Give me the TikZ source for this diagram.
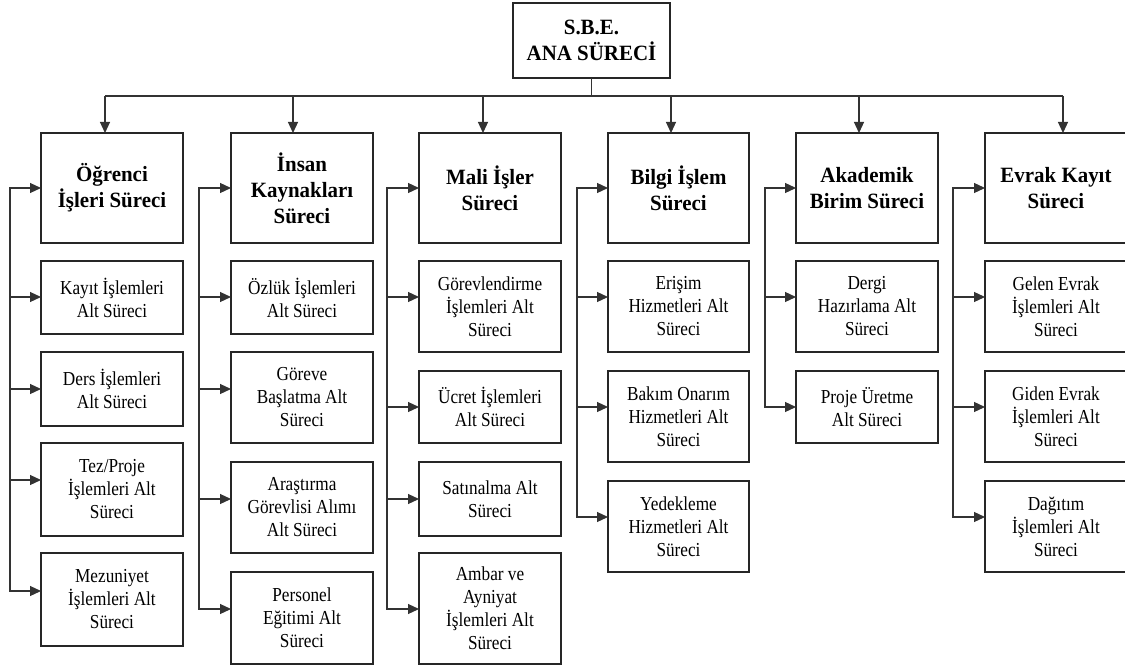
\documentclass[tikz,border=0pt]{standalone}
\usepackage{fontspec}
\setmainfont{Liberation Serif}[FakeStretch=0.87]
\newfontfamily\headfont{Liberation Serif}[FakeStretch=0.96]
\usetikzlibrary{arrows.meta}
\tikzset{
  box/.style={draw=black!85, line width=1.1pt, fill=white, inner sep=0pt, outer sep=0pt, align=center, text=black},
  headbox/.style={box, font=\headfont\bfseries\fontsize{21.8}{26}\selectfont},
  subbox/.style={box, font=\fontsize{19.8}{23}\selectfont},
  conn/.style={draw=black!80, line width=1.2pt},
  arr/.style={conn, -{Triangle[length=11pt,width=10pt]}},
}
\newcommand\bx[7]{\node[#1, minimum width={(#5-#3)*1pt}, minimum height={(#6-#4)*1pt}] (#2) at ({(#3+#5)/2},{(#4+#6)/2}) {#7};}
\begin{document}
\begin{tikzpicture}[x=1pt,y=-1pt]
\useasboundingbox[fill=white] (0,0) rectangle (1125,666);
% top
\bx{headbox}{top}{513}{3}{670}{78}{S.B.E.\\ANA SÜRECİ}
% heads
\bx{headbox}{h1}{41}{133}{183}{243}{Öğrenci\\İşleri Süreci}
\bx{headbox}{h2}{231}{133}{373}{243}{İnsan\\Kaynakları\\Süreci}
\bx{headbox}{h3}{419}{133}{561}{243}{Mali İşler\\Süreci}
\bx{headbox}{h4}{608}{133}{749}{243}{Bilgi İşlem\\Süreci}
\bx{headbox}{h5}{796}{133}{938}{243}{Akademik\\Birim Süreci}
\bx{headbox}{h6}{985}{133}{1127}{243}{Evrak Kayıt\\Süreci}
% column 1
\bx{subbox}{s11}{41}{261}{183}{334}{Kayıt İşlemleri\\Alt Süreci}
\bx{subbox}{s12}{41}{352}{183}{426}{Ders İşlemleri\\Alt Süreci}
\bx{subbox}{s13}{41}{443}{183}{536}{Tez/Proje\\İşlemleri Alt\\Süreci}
\bx{subbox}{s14}{41}{553}{183}{646}{Mezuniyet\\İşlemleri Alt\\Süreci}
% column 2
\bx{subbox}{s21}{231}{261}{373}{334}{Özlük İşlemleri\\Alt Süreci}
\bx{subbox}{s22}{231}{352}{373}{443}{Göreve\\Başlatma Alt\\Süreci}
\bx{subbox}{s23}{231}{462}{373}{553}{Araştırma\\Görevlisi Alımı\\Alt Süreci}
\bx{subbox}{s24}{231}{572}{373}{664}{Personel\\Eğitimi Alt\\Süreci}
% column 3
\bx{subbox}{s31}{419}{261}{561}{352}{Görevlendirme\\İşlemleri Alt\\Süreci}
\bx{subbox}{s32}{419}{371}{561}{443}{Ücret İşlemleri\\Alt Süreci}
\bx{subbox}{s33}{419}{462}{561}{536}{Satınalma Alt\\Süreci}
\bx{subbox}{s34}{419}{553}{561}{664}{Ambar ve\\Ayniyat\\İşlemleri Alt\\Süreci}
% column 4
\bx{subbox}{s41}{608}{261}{749}{352}{Erişim\\Hizmetleri Alt\\Süreci}
\bx{subbox}{s42}{608}{371}{749}{462}{Bakım Onarım\\Hizmetleri Alt\\Süreci}
\bx{subbox}{s43}{608}{481}{749}{572}{Yedekleme\\Hizmetleri Alt\\Süreci}
% column 5
\bx{subbox}{s51}{796}{261}{938}{352}{Dergi\\Hazırlama Alt\\Süreci}
\bx{subbox}{s52}{796}{371}{938}{443}{Proje Üretme\\Alt Süreci}
% column 6
\bx{subbox}{s61}{985}{261}{1127}{352}{Gelen Evrak\\İşlemleri Alt\\Süreci}
\bx{subbox}{s62}{985}{371}{1127}{462}{Giden Evrak\\İşlemleri Alt\\Süreci}
\bx{subbox}{s63}{985}{481}{1127}{572}{Dağıtım\\İşlemleri Alt\\Süreci}
% bus
\coordinate (b1) at (105,96);
\coordinate (b2) at (293,96);
\coordinate (b3) at (483,96);
\coordinate (b4) at (671,96);
\coordinate (b5) at (859,96);
\coordinate (b6) at (1063,96);
\draw[conn] (top.south) -- (top.south |- b1);
\draw[conn] (b1) -- (b6);
\draw[arr] (b1) -- (b1 |- h1.north);
\draw[arr] (b2) -- (b2 |- h2.north);
\draw[arr] (b3) -- (b3 |- h3.north);
\draw[arr] (b4) -- (b4 |- h4.north);
\draw[arr] (b5) -- (b5 |- h5.north);
\draw[arr] (b6) -- (b6 |- h6.north);
% feeders column 1
\coordinate (f1) at (10,188);
\coordinate (f1a) at (10,297);
\coordinate (f1b) at (10,389);
\coordinate (f1c) at (10,480);
\coordinate (f1d) at (10,591);
\draw[arr] (f1d) -- (f1) -- (f1 -| h1.west);
\draw[arr] (f1) -- (f1d) -- (f1d -| s14.west);
\draw[arr] (f1a) -- (f1a -| s11.west);
\draw[arr] (f1b) -- (f1b -| s12.west);
\draw[arr] (f1c) -- (f1c -| s13.west);
% column 2
\coordinate (f2) at (199,188);
\coordinate (f2a) at (199,297);
\coordinate (f2b) at (199,389);
\coordinate (f2c) at (199,499);
\coordinate (f2d) at (199,609);
\draw[arr] (f2d) -- (f2) -- (f2 -| h2.west);
\draw[arr] (f2) -- (f2d) -- (f2d -| s24.west);
\draw[arr] (f2a) -- (f2a -| s21.west);
\draw[arr] (f2b) -- (f2b -| s22.west);
\draw[arr] (f2c) -- (f2c -| s23.west);
% column 3
\coordinate (f3) at (387,188);
\coordinate (f3a) at (387,297);
\coordinate (f3b) at (387,407);
\coordinate (f3c) at (387,499);
\coordinate (f3d) at (387,609);
\draw[arr] (f3d) -- (f3) -- (f3 -| h3.west);
\draw[arr] (f3) -- (f3d) -- (f3d -| s34.west);
\draw[arr] (f3a) -- (f3a -| s31.west);
\draw[arr] (f3b) -- (f3b -| s32.west);
\draw[arr] (f3c) -- (f3c -| s33.west);
% column 4
\coordinate (f4) at (577,188);
\coordinate (f4a) at (577,297);
\coordinate (f4b) at (577,407);
\coordinate (f4c) at (577,517);
\draw[arr] (f4c) -- (f4) -- (f4 -| h4.west);
\draw[arr] (f4) -- (f4c) -- (f4c -| s43.west);
\draw[arr] (f4a) -- (f4a -| s41.west);
\draw[arr] (f4b) -- (f4b -| s42.west);
% column 5
\coordinate (f5) at (765,188);
\coordinate (f5a) at (765,297);
\coordinate (f5b) at (765,407);
\draw[arr] (f5b) -- (f5) -- (f5 -| h5.west);
\draw[arr] (f5) -- (f5b) -- (f5b -| s52.west);
\draw[arr] (f5a) -- (f5a -| s51.west);
% column 6
\coordinate (f6) at (953,188);
\coordinate (f6a) at (953,297);
\coordinate (f6b) at (953,407);
\coordinate (f6c) at (953,517);
\draw[arr] (f6c) -- (f6) -- (f6 -| h6.west);
\draw[arr] (f6) -- (f6c) -- (f6c -| s63.west);
\draw[arr] (f6a) -- (f6a -| s61.west);
\draw[arr] (f6b) -- (f6b -| s62.west);
\end{tikzpicture}
\end{document}
